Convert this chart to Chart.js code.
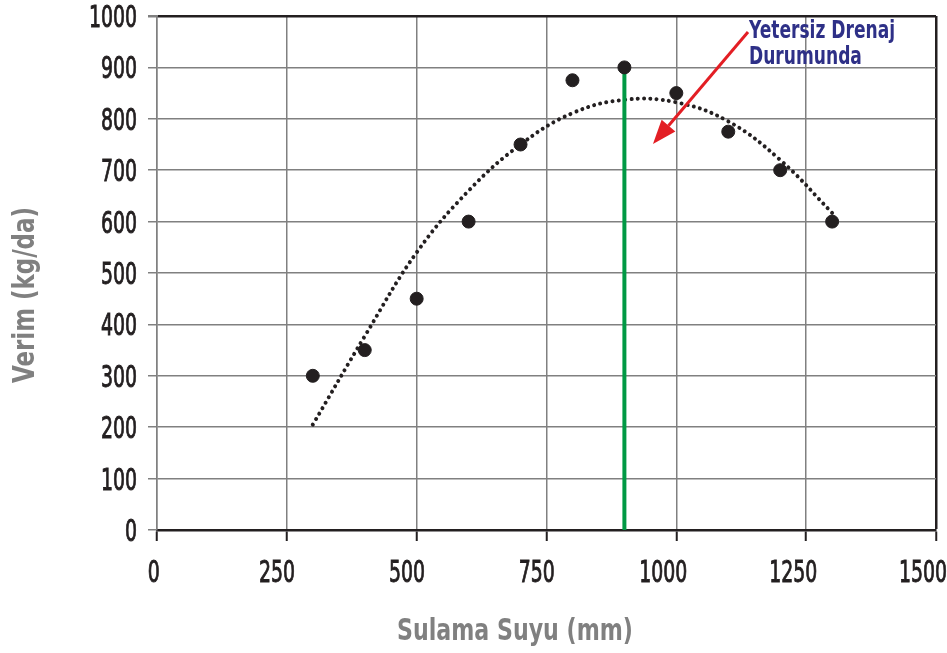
<!DOCTYPE html>
<html>
<head>
<meta charset="utf-8">
<script src="https://cdn.jsdelivr.net/npm/chart.js@4.4.1/dist/chart.umd.min.js"></script>
<style>
  html, body { margin: 0; padding: 0; background: #fff; }
  #wrap { width: 947px; height: 653px; }
</style>
</head>
<body>
<div id="wrap"><canvas id="chart" width="947" height="653"></canvas></div>
<script>
// measured points (Sulama Suyu mm -> Verim kg/da)
const waterMm = [300, 400, 500, 600, 700, 800, 900, 1000, 1100, 1200, 1300];
const yieldKg = [300, 350, 450, 600, 750, 875, 900, 850, 775, 700, 600];

// dotted trend curve
const trendX = [300, 400, 500, 600, 700, 800, 900, 1000, 1100, 1200, 1300];
const trendY = [205, 377, 540, 660, 750, 811, 837, 832, 795, 720, 617];

// green marker line
const drainX = [900, 900];
const drainY = [0, 900];

// annotation
const noteLines = ['Yetersiz Drenaj', 'Durumunda'];
const arrowFrom = [1138, 969];
const arrowTo = [955, 751];

const xTicks = [0, 250, 500, 750, 1000, 1250, 1500];
const yTicks = [0, 100, 200, 300, 400, 500, 600, 700, 800, 900, 1000];

const xTitle = 'Sulama Suyu (mm)';
const yTitle = 'Verim (kg/da)';

const FONT = '"DejaVu Sans Condensed", "DejaVu Sans", sans-serif';
const DARK = '#231f20';
const GRID = '#808080';

function pts(xs, ys) {
  return xs.map((x, i) => ({ x: x, y: ys[i] }));
}

// text squeezed horizontally, the original uses a narrow face
function squeezed(ctx, text, x, y, sx, align, stroke) {
  ctx.save();
  ctx.translate(x, y);
  ctx.scale(sx, 1);
  ctx.textAlign = align;
  ctx.fillText(text, 0, 0);
  if (stroke) {
    ctx.strokeStyle = ctx.fillStyle;
    ctx.lineWidth = stroke;
    ctx.strokeText(text, 0, 0);
  }
  ctx.restore();
}

const extras = {
  id: 'extras',
  afterDraw(chart) {
    const ctx = chart.ctx;
    const xs = chart.scales.x, ys = chart.scales.y;
    ctx.save();

    // tick labels
    ctx.fillStyle = DARK;
    ctx.font = '30px ' + FONT;
    ctx.textBaseline = 'alphabetic';
    yTicks.forEach(v => {
      squeezed(ctx, String(v), 137, ys.getPixelForValue(v) + 11, 0.7, 'right', 0.9);
    });
    xTicks.forEach(v => {
      const w = ctx.measureText(String(v)).width * 0.7;
      squeezed(ctx, String(v), xs.getPixelForValue(v) - 0.27 * w, 582, 0.7, 'center', 0.9);
    });

    // arrow
    const x1 = xs.getPixelForValue(arrowFrom[0]), y1 = ys.getPixelForValue(arrowFrom[1]);
    const x2 = xs.getPixelForValue(arrowTo[0]), y2 = ys.getPixelForValue(arrowTo[1]);
    const ang = Math.atan2(y2 - y1, x2 - x1);
    const headLen = 24, headW = 9;
    const bx = x2 - headLen * Math.cos(ang), by = y2 - headLen * Math.sin(ang);
    ctx.strokeStyle = '#e31e24';
    ctx.fillStyle = '#e31e24';
    ctx.lineWidth = 3;
    ctx.beginPath();
    ctx.moveTo(x1, y1);
    ctx.lineTo(bx, by);
    ctx.stroke();
    ctx.beginPath();
    ctx.moveTo(x2, y2);
    ctx.lineTo(bx + headW * Math.sin(ang), by - headW * Math.cos(ang));
    ctx.lineTo(bx - headW * Math.sin(ang), by + headW * Math.cos(ang));
    ctx.closePath();
    ctx.fill();

    // note text
    ctx.fillStyle = '#2e3087';
    ctx.font = 'bold 25px ' + FONT;
    squeezed(ctx, noteLines[0], x1 + 1, 38, 0.76, 'left');
    squeezed(ctx, noteLines[1], x1 + 1, 64, 0.76, 'left');

    // axis titles
    ctx.fillStyle = '#808080';
    ctx.font = 'bold 30px ' + FONT;
    ctx.textBaseline = 'middle';
    squeezed(ctx, xTitle, 515, 632, 0.82, 'center');
    ctx.translate(26, 295);
    ctx.rotate(-Math.PI / 2);
    squeezed(ctx, yTitle, 0, 0, 0.85, 'center');
    ctx.restore();
  }
};

new Chart(document.getElementById('chart'), {
  type: 'scatter',
  data: {
    datasets: [
      {
        label: 'points',
        data: pts(waterMm, yieldKg),
        backgroundColor: DARK,
        borderColor: DARK,
        pointRadius: 6.5,
        pointHoverRadius: 6.5,
        order: 0
      },
      {
        label: 'trend',
        type: 'line',
        data: pts(trendX, trendY),
        borderColor: DARK,
        borderWidth: 4,
        borderDash: [0.01, 6.3],
        borderCapStyle: 'round',
        tension: 0.4,
        pointRadius: 0,
        fill: false,
        order: 2
      },
      {
        label: 'drain',
        type: 'line',
        data: pts(drainX, drainY),
        borderColor: '#009944',
        borderWidth: 4,
        pointRadius: 0,
        fill: false,
        order: 1
      }
    ]
  },
  options: {
    responsive: false,
    animation: false,
    layout: { padding: { left: 0, top: 16, right: 11, bottom: 0 } },
    plugins: {
      legend: { display: false },
      tooltip: { enabled: false }
    },
    scales: {
      x: {
        type: 'linear',
        min: 0,
        max: 1500,
        afterBuildTicks: s => { s.ticks = xTicks.map(v => ({ value: v })); },
        afterFit: s => { s.height = 123; s.paddingLeft = 0; s.paddingRight = 0; },
        ticks: { display: false },
        grid: {
          color: ctx => (ctx.tick && ctx.tick.value === 1500) ? DARK : GRID,
          lineWidth: ctx => (ctx.tick && ctx.tick.value === 1500) ? 2.5 : 1.5,
          tickColor: DARK,
          tickLength: 11,
          tickWidth: 2
        },
        border: { color: DARK, width: 2.5 }
      },
      y: {
        type: 'linear',
        min: 0,
        max: 1000,
        afterBuildTicks: s => { s.ticks = yTicks.map(v => ({ value: v })); },
        afterFit: s => { s.width = 157; s.paddingTop = 0; s.paddingBottom = 0; },
        ticks: { display: false },
        grid: {
          color: ctx => (ctx.tick && (ctx.tick.value === 1000 || ctx.tick.value === 0)) ? DARK : GRID,
          lineWidth: ctx => (ctx.tick && ctx.tick.value === 1000) ? 2.5 : 1.5,
          tickColor: GRID,
          tickLength: 9
        },
        border: { color: GRID, width: 1.5 }
      }
    }
  },
  plugins: [extras]
});
</script>
</body>
</html>
